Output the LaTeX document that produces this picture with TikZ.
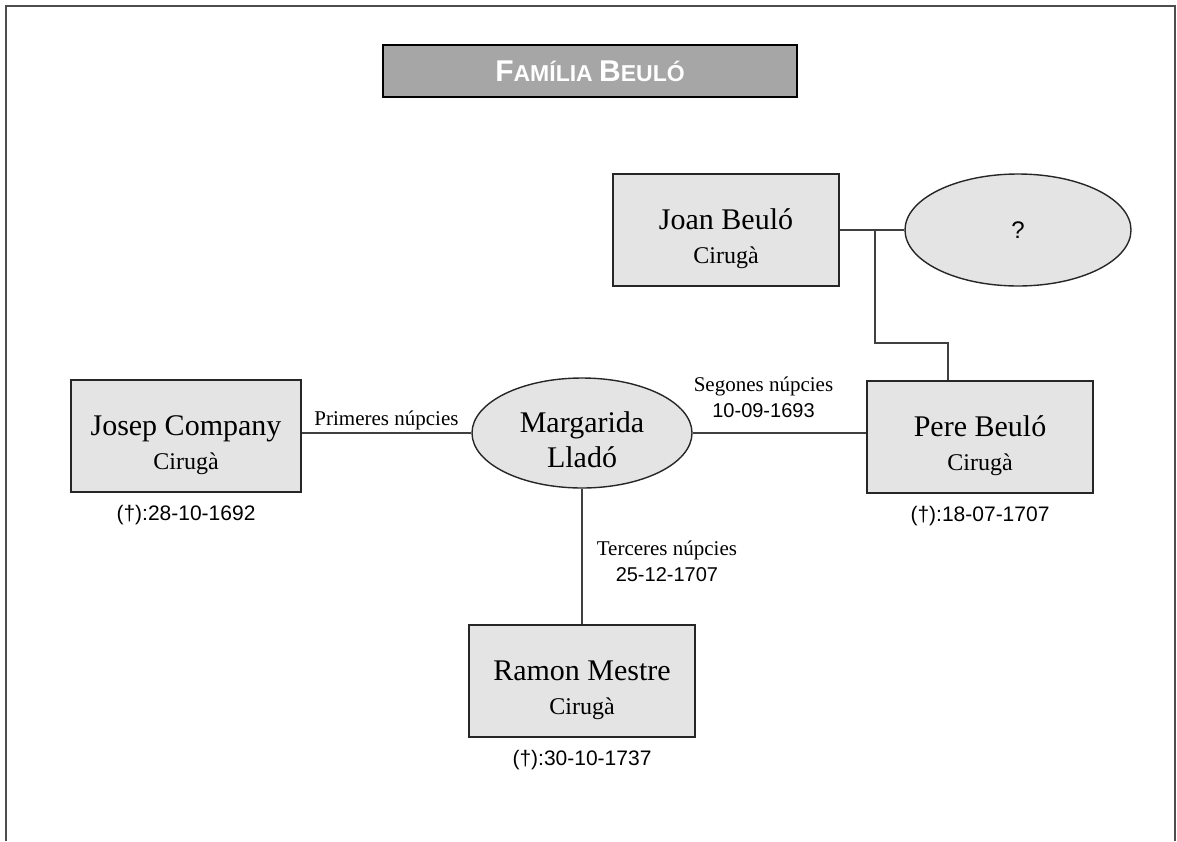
\documentclass[tikz,border=0pt]{standalone}
\usepackage{fontspec}
\setmainfont{Liberation Serif}
\setsansfont{Liberation Sans}
\usetikzlibrary{positioning,shapes.geometric}
\definecolor{caixa}{HTML}{E4E4E4}
\definecolor{capcal}{HTML}{A6A6A6}
\definecolor{marc}{HTML}{4D4D4D}
\newcommand{\nomfont}{\fontsize{15}{18}\selectfont}
\newcommand{\oficifont}{\fontsize{12}{14}\selectfont}
\newcommand{\puntal}{\rule{0pt}{19pt}}

\begin{document}
\begin{tikzpicture}[x=0.5pt,y=-0.5pt,
 persona/.style={draw=black!85,fill=caixa,line width=0.7pt,minimum width=113pt,minimum height=56pt,inner sep=0pt,align=center,font=\nomfont},
 parella/.style={ellipse,draw=black!85,fill=caixa,line width=0.7pt,minimum width=112pt,minimum height=56pt,inner sep=0pt,align=center,font=\nomfont},
 enllac/.style={black!75,line width=0.8pt},
 noces/.style={text=black,font=\fontsize{10.5}{13}\selectfont,align=center,inner sep=1pt},
 mort/.style={font=\sffamily\fontsize{10.5}{12}\selectfont,inner sep=1pt}]
\useasboundingbox (0,0) rectangle (1177,841);
% marc obert per baix
\draw[marc,line width=1pt] (6,841) |- (1175,6) -- (1175,841);

% titol
\node[draw=black,line width=1.2pt,fill=capcal,minimum width=207pt,minimum height=26pt,text=white,font=\sffamily\bfseries] (titol) at (590,71)
 {\fontsize{15}{17}\selectfont F\fontsize{11.5}{13}\selectfont AMÍLIA \fontsize{15}{17}\selectfont B\fontsize{11.5}{13}\selectfont EULÓ};

% persones
\node[persona] (joan) at (726,230) {\puntal Joan Beuló\\[-1pt]{\oficifont Cirugà}};
\node[parella,minimum width=113pt] (desconeguda) at (1018,230) {\sffamily\fontsize{12}{14}\selectfont ?};
\node[persona,minimum width=115pt] (josep) at (186,436) {\puntal Josep Company\\[-1pt]{\oficifont Cirugà}};
\node[parella,minimum width=110pt,minimum height=55pt] (margarida) at (582,433) {\rule{0pt}{17.5pt}Margarida\\[-0.5pt]Lladó};
\node[persona] (pere) at (980,437) {\puntal Pere Beuló\\[-1pt]{\oficifont Cirugà}};
\node[persona] (ramon) at (582,681) {\puntal Ramon Mestre\\[-1pt]{\oficifont Cirugà}};

% defuncions
\node[mort,below=5pt of josep] (mortjosep) {(†):28-10-1692};
\node[mort,below=5pt of pere] (mortpere) {(†):18-07-1707};
\node[mort,below=5pt of ramon] (mortramon) {(†):30-10-1737};

% pares de Pere
\coordinate (nus) at (875,230);
\coordinate (colze) at (948,343);
\draw[enllac] (joan.east |- desconeguda.west) -- (desconeguda.west);
\draw[enllac] (nus) |- (colze) -- (colze |- pere.north);

% matrimonis
\draw[enllac] (josep.east |- margarida.west) -- node[noces,above] (primeres) {Primeres núpcies} (margarida.west);
\draw[enllac] (margarida.east) -- node[noces,above=6.5pt,xshift=-8pt] (segones) {Segones núpcies\\{\sffamily\fontsize{10}{12}\selectfont 10-09-1693}} (pere.west |- margarida.east);
\draw[enllac] (margarida) -- node[noces,right=6pt,yshift=-2.5pt] (terceres) {Terceres núpcies\\{\sffamily\fontsize{10}{12}\selectfont 25-12-1707}} (ramon);
\end{tikzpicture}
\end{document}
